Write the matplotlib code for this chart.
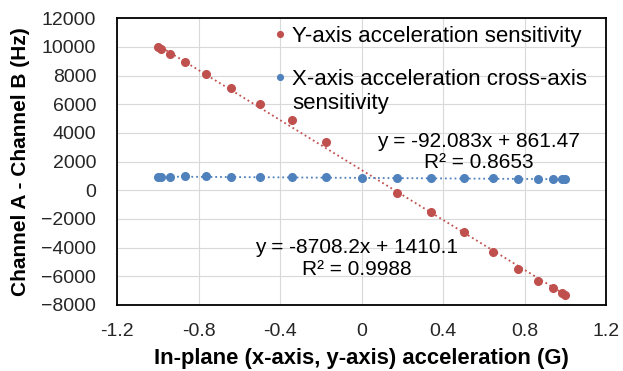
import matplotlib.pyplot as plt
import numpy as np

plt.rcParams['font.family'] = ['Liberation Sans', 'DejaVu Sans']

# rotation positions (G)
accel = [-1.0, -0.985, -0.94, -0.866, -0.766, -0.643, -0.5, -0.342, -0.174,
         0.0, 0.174, 0.342, 0.5, 0.643, 0.766, 0.866, 0.94, 0.985, 1.0]

# Y-axis sensitivity (Hz), no point at 0
y_accel = [a for a in accel if a != 0.0]
y_sens = [10000, 9850, 9490, 8910, 8100, 7100, 6010, 4890, 3360,
          -200, -1500, -2930, -4290, -5490, -6310, -6840, -7150, -7320]

# X-axis cross-axis sensitivity (Hz)
x_sens = [950, 945, 955, 975, 960, 950, 930, 910, 890, 880,
          860, 850, 835, 820, 810, 800, 780, 770, 760]

# trendline coefficients shown on the chart
fit_y = (-8708.2, 1410.1, 0.9988)
fit_x = (-92.083, 861.47, 0.8653)

red = '#C0504D'
blue = '#4F81BD'

fig = plt.figure(figsize=(6.23, 3.71), dpi=100)
ax = fig.add_axes([0.188, 0.178, 0.785, 0.773])

ax.plot(y_accel, y_sens, 'o', color=red, ms=5.5, label='Y-axis acceleration sensitivity', zorder=3)
ax.plot(accel, x_sens, 'o', color=blue, ms=5.5, label='X-axis acceleration cross-axis', zorder=4)

xx = np.array([min(accel), max(accel)])
ax.plot(xx, fit_y[0] * xx + fit_y[1], ':', color=red, lw=1.3, zorder=2)
ax.plot(xx, fit_x[0] * xx + fit_x[1], ':', color=blue, lw=1.3, zorder=2)

ax.text(-0.026, -4760, 'y = %sx + %s\nR² = %s' % (fit_y[0], fit_y[1], fit_y[2]),
        ha='center', va='center', fontsize=15, linespacing=1.15)
ax.text(0.574, 2680, 'y = %sx + %s\nR² = %s' % (fit_x[0], fit_x[1], fit_x[2]),
        ha='center', va='center', fontsize=15, linespacing=1.1)

ax.set_xlim(-1.2, 1.2)
ax.set_ylim(-8000, 12000)
ax.set_xticks(np.arange(-1.2, 1.21, 0.4))
ax.set_xticklabels(['-1.2', '-0.8', '-0.4', '0', '0.4', '0.8', '1.2'])
ax.set_yticks(np.arange(-8000, 12001, 2000))
ax.tick_params(length=0, labelsize=14, colors='#262626')
ax.tick_params(axis='y', pad=15)
ax.tick_params(axis='x', pad=13)
ax.grid(True, color='#d9d9d9', lw=0.8)
ax.set_axisbelow(True)
for s in ax.spines.values():
    s.set_linewidth(1.3)
    s.set_color('black')

ax.set_xlabel('In-plane (x-axis, y-axis) acceleration (G)', fontsize=15.8, fontweight='bold', labelpad=6)
ax.set_ylabel('Channel A - Channel B (Hz)', fontsize=15, fontweight='bold', labelpad=8)

leg = ax.legend(loc='upper left', bbox_to_anchor=(0.279, 1.042), frameon=False, fontsize=16,
                handlelength=0.6, handletextpad=0.25, labelspacing=0.98, markerscale=0.75)
# second line of the blue entry (marker stays on the first line, like Excel)
ax.annotate('sensitivity', xy=(0, 0.5), xycoords=leg.get_texts()[1],
            xytext=(0, -24), textcoords='offset pixels', ha='left', va='center',
            fontsize=16, zorder=6)

fig.savefig('out.png', dpi=100)
